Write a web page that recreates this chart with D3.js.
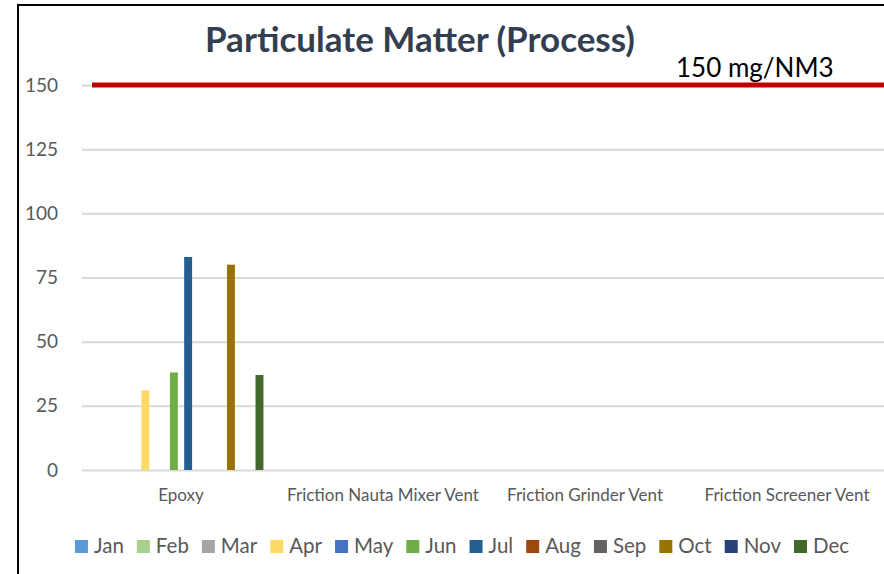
<!DOCTYPE html>
<html>
<head>
<meta charset="utf-8">
<script src="https://cdn.jsdelivr.net/npm/d3@7"></script>
<style>
  body { margin: 0; background: #fff; }
  svg { display: block; font-family: Lato, "Open Sans", sans-serif; }
</style>
</head>
<body>
<svg width="884" height="574"></svg>
<script>
// categories and months
var categories = ["Epoxy", "Friction Nauta Mixer Vent", "Friction Grinder Vent", "Friction Screener Vent"];
var months = ["Jan","Feb","Mar","Apr","May","Jun","Jul","Aug","Sep","Oct","Nov","Dec"];
var colors = ["#5B9BD5","#A9D18E","#A5A5A5","#FFD966","#4472C4","#70AD47","#255E91","#9E480E","#636363","#997300","#264478","#43682B"];

// values per month, one entry per category (null = no reading)
var epoxy    = [null, null, null, 31, null, 38, 83, null, null, 80, null, 37];
var nauta    = [null, null, null, null, null, null, null, null, null, null, null, null];
var grinder  = [null, null, null, null, null, null, null, null, null, null, null, null];
var screener = [null, null, null, null, null, null, null, null, null, null, null, null];
var seriesByCat = [epoxy, nauta, grinder, screener];

var yTicks = [0, 25, 50, 75, 100, 125, 150];
var limitValue = 150;
var limitLabel = "150 mg/NM3";
var title = "Particulate Matter (Process)";

var svg = d3.select("svg");

var x0 = d3.scaleBand().domain(categories).range([80, 888]);
var x1 = d3.scaleBand().domain(months).range([0, x0.bandwidth()])
    .paddingInner(0.444).paddingOuter(1.3);
var y = d3.scaleLinear().domain([0, 150]).range([470, 85]);

// frame
svg.append("line").attr("x1", 18).attr("x2", 884).attr("y1", 5).attr("y2", 5)
  .attr("stroke", "#000").attr("stroke-width", 2);
svg.append("line").attr("x1", 18).attr("x2", 18).attr("y1", 4).attr("y2", 574)
  .attr("stroke", "#000").attr("stroke-width", 2);

// gridlines + y labels
var yAxis = d3.axisLeft(y).tickValues(yTicks).tickSize(-(884 - 82)).tickPadding(24);
var gy = svg.append("g").attr("transform", "translate(82,0)").call(yAxis);
gy.select(".domain").remove();
gy.selectAll(".tick line").attr("stroke", "#D9D9D9").attr("stroke-width", 2);
gy.selectAll(".tick text").attr("fill", "#595959").attr("font-size", 19)
  .attr("font-family", "Lato, sans-serif");

// bars
var rows = [];
categories.forEach(function(c, ci) {
  months.forEach(function(m, mi) {
    var v = seriesByCat[ci][mi];
    if (v != null) rows.push({cat: c, month: m, idx: mi, value: v});
  });
});
svg.append("g").selectAll("rect").data(rows).enter().append("rect")
  .attr("x", function(d) { return x0(d.cat) + x1(d.month); })
  .attr("y", function(d) { return y(d.value); })
  .attr("width", x1.bandwidth())
  .attr("height", function(d) { return y(0) - y(d.value); })
  .attr("fill", function(d) { return colors[d.idx]; });

// limit line
svg.append("line").attr("x1", 92).attr("x2", 884)
  .attr("y1", y(limitValue)).attr("y2", y(limitValue))
  .attr("stroke", "#C00000").attr("stroke-width", 5);
svg.append("text").attr("x", 676).attr("y", 77).text(limitLabel)
  .attr("font-size", 26).attr("fill", "#000");

// category labels
var xAxis = d3.axisBottom(x0).tickSize(0).tickPadding(19);
var gx = svg.append("g").attr("transform", "translate(0,470)").call(xAxis);
gx.select(".domain").remove();
gx.selectAll(".tick text").attr("fill", "#595959").attr("font-size", 17)
  .attr("font-family", "Lato, sans-serif");

// title
svg.append("text").attr("x", 420).attr("y", 52).attr("text-anchor", "middle")
  .attr("font-size", 35).attr("font-weight", "bold").attr("fill", "#333F50")
  .text(title);

// legend
var lg = svg.append("g");
var items = lg.selectAll("g").data(months).enter().append("g");
items.append("rect").attr("width", 13).attr("height", 13).attr("y", -13)
  .attr("fill", function(d, i) { return colors[i]; });
items.append("text").attr("x", 19).attr("y", 0).text(function(d) { return d; })
  .attr("font-size", 20.5).attr("fill", "#595959");
var xpos = 0;
items.each(function() {
  var w = 19 + this.querySelector("text").getComputedTextLength();
  d3.select(this).attr("transform", "translate(" + xpos + ",553)");
  xpos += w + 13;
});
var total = xpos - 13;
lg.attr("transform", "translate(" + (462 - total / 2) + ",0)");
</script>
</body>
</html>
